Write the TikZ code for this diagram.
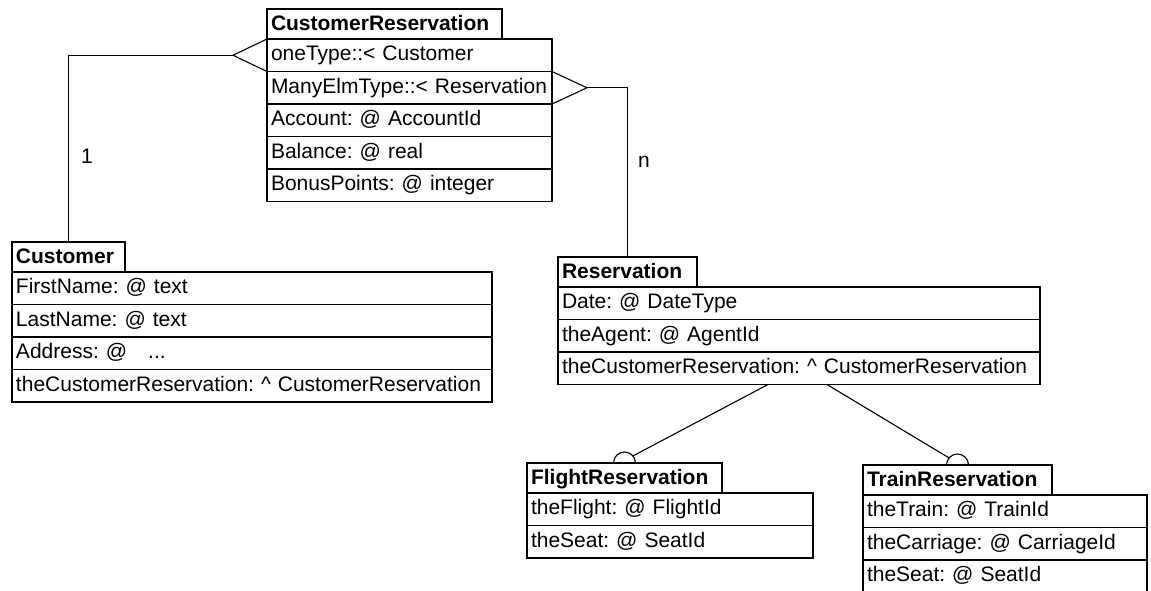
\documentclass[tikz,border=0pt]{standalone}
\usepackage{fontspec}
\setmainfont{Liberation Sans}
\usetikzlibrary{positioning, calc}
\frenchspacing

\tikzset{
  classname/.style={draw, line width=1.3pt, outer sep=0pt, inner xsep=4pt, inner ysep=0pt,
    minimum height=30pt, text height=16pt, text depth=4pt, anchor=north west, align=left,
    font=\fontsize{21}{24}\selectfont\bfseries},
  attr/.style={draw, line width=1.3pt, outer sep=0pt, inner xsep=4pt, inner ysep=0pt,
    minimum height=32.5pt, text height=16pt, text depth=5pt, anchor=north west, align=left,
    font=\fontsize{21}{24}\selectfont},
  link/.style={line width=1.1pt},
  mult/.style={font=\fontsize{21}{24}\selectfont, inner sep=0pt}
}

\begin{document}
\begin{tikzpicture}[x=1pt,y=-1pt]
      \path[use as bounding box, fill=white] (0,0) rectangle (1151,590);

      % CustomerReservation
      \node[classname, text width=227pt] (crt) at (267,9) {CustomerReservation};
      \node[attr, text width=277pt] (cr1) at (crt.south west) {oneType::< Customer};
      \node[attr, text width=277pt] (cr2) at (cr1.south west) {ManyElmType::< Reservation};
      \node[attr, text width=277pt] (cr3) at (cr2.south west) {Account: @ AccountId};
      \node[attr, text width=277pt] (cr4) at (cr3.south west) {Balance: @ real};
      \node[attr, text width=277pt] (cr5) at (cr4.south west) {BonusPoints: @ integer};

      % Customer
      \node[classname, text width=105pt] (cust) at (12,242) {Customer};
      \node[attr, text width=472pt] (cust1) at (cust.south west) {FirstName: @ text};
      \node[attr, text width=472pt] (cust2) at (cust1.south west) {LastName: @ text};
      \node[attr, text width=472pt] (cust3) at (cust2.south west) {Address: @ \ \ ...};
      \node[attr, text width=472pt] (cust4) at (cust3.south west) {theCustomerReservation: \textasciicircum{} CustomerReservation};

      % Reservation
      \node[classname, text width=131pt] (res) at (558,257) {Reservation};
      \node[attr, text width=474pt] (res1) at (res.south west) {Date: @ DateType};
      \node[attr, text width=474pt] (res2) at (res1.south west) {theAgent: @ AgentId};
      \node[attr, text width=474pt] (res3) at (res2.south west) {theCustomerReservation: \textasciicircum{} CustomerReservation};

      % FlightReservation
      \node[classname, text width=187pt] (fl) at (527,463) {FlightReservation};
      \node[attr, text width=278pt] (fl1) at (fl.south west) {theFlight: @ FlightId};
      \node[attr, text width=278pt] (fl2) at (fl1.south west) {theSeat: @ SeatId};

      % TrainReservation
      \node[classname, text width=181pt] (tr) at (863,465) {TrainReservation};
      \node[attr, text width=276pt] (tr1) at (tr.south west) {theTrain: @ TrainId};
      \node[attr, text width=276pt] (tr2) at (tr1.south west) {theCarriage: @ CarriageId};
      \node[attr, text width=276pt] (tr3) at (tr2.south west) {theSeat: @ SeatId};

      % links
      \coordinate (onetip) at ($(cr1.west)+(-34,0)$);
      \draw[link] (cr1.north west) -- (onetip) -- (cr1.south west);
      \draw[link] (onetip) -| node[mult, pos=0.77, right=12pt] (one) {1} (cust.north);

      \coordinate (manytip) at ($(cr2.east)+(35,0)$);
      \draw[link] (cr2.north east) -- (manytip) -- (cr2.south east);
      \draw[link] (manytip) -| node[mult, pos=0.72, right=10pt] (many) {n} (res.north);

      \coordinate (resfl) at ($(res3.south)+(-31,0)$);
      \coordinate (restr) at ($(res3.south)+(28,0)$);
      \coordinate (flhook) at ($(fl.north)+(40:11pt)$);
      \coordinate (trhook) at ($(tr.north)+(140:11pt)$);
      \draw[link] (fl.north) ++(-11,0) arc[start angle=180, end angle=0, radius=11pt];
      \draw[link] (tr.north) ++(-11,0) arc[start angle=180, end angle=0, radius=11pt];
      \draw[link] (resfl) -- (flhook);
      \draw[link] (restr) -- (trhook);
    \end{tikzpicture}
\end{document}
